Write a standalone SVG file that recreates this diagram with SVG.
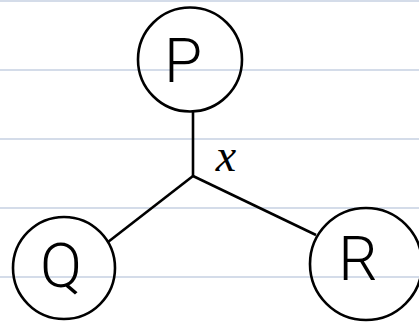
<svg xmlns="http://www.w3.org/2000/svg" width="419" height="324" viewBox="0 0 419 324">
<style>
.rule{stroke:#c6d0e2;stroke-width:1.6}
.node{fill:none;stroke:#000;stroke-width:2.6}
.edge{stroke:#000;stroke-width:2.6;fill:none}
.lbl{font-family:Roboto,"Liberation Sans",sans-serif;font-weight:300;font-size:62px;fill:#000;text-anchor:middle}
.elbl{font-family:"Liberation Serif",serif;font-style:italic;font-size:46px;fill:#000;text-anchor:middle}
</style>
<rect width="419" height="324" fill="#fff"/>
<g id="rules">
<line class="rule" x1="0" y1="1" x2="419" y2="1"/>
<line class="rule" x1="0" y1="70" x2="419" y2="70"/>
<line class="rule" x1="0" y1="139" x2="419" y2="139"/>
<line class="rule" x1="0" y1="208" x2="419" y2="208"/>
<line class="rule" x1="0" y1="277" x2="419" y2="277"/>
</g>
<g id="connectors">
<line class="edge" x1="193" y1="111" x2="193" y2="176"/>
<line class="edge" x1="193" y1="176" x2="108" y2="242"/>
<line class="edge" x1="193" y1="176" x2="316" y2="235"/>
<text class="elbl" x="226" y="171">x</text>
</g>
<g id="P">
<circle class="node" cx="190" cy="59.5" r="52"/>
<text class="lbl" x="183" y="82">P</text>
</g>
<g id="Q">
<circle class="node" cx="64" cy="268" r="51"/>
<text class="lbl" x="61" y="287">Q</text>
</g>
<g id="R">
<circle class="node" cx="366" cy="264" r="56"/>
<text class="lbl" x="358" y="280">R</text>
</g>
</svg>
